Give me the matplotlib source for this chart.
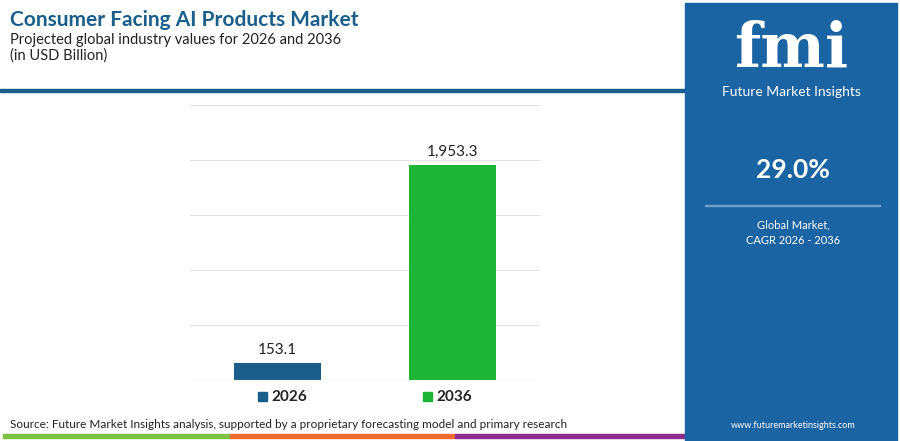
import matplotlib
matplotlib.use("Agg")
import matplotlib.pyplot as plt
from matplotlib.patches import Rectangle

years = ["2026", "2036"]
values = [153.1, 1953.3]
labels = ["153.1", "1,953.3"]
colors = ["#1b5e8c", "#1db535"]
cagr = "29.0%"

plt.rcParams['font.family'] = ['Poppins', 'Lato', 'DejaVu Sans']
plt.rcParams['font.family'] = ['Lato', 'DejaVu Sans']
fig = plt.figure(figsize=(9, 4.41), dpi=100)
W, H = 900, 441
def fx(x): return x / W
def fy(y): return 1 - y / H

# header line
fig.add_artist(Rectangle((0, fy(92)), fx(685), 3/H, color="#1b5e8c", transform=fig.transFigure))
fig.text(fx(10), fy(20), "Consumer Facing AI Products Market", fontsize=15, fontweight="bold", color="#1b5e8c", va="center")
fig.text(fx(10), fy(40), "Projected global industry values for 2026 and 2036", fontsize=10.5, color="#222222", va="center")
fig.text(fx(10), fy(56), "(in USD Billion)", fontsize=10.5, color="#222222", va="center")

ax = fig.add_axes([fx(190), fy(380), fx(540) - fx(190), (380 - 105) / H])
x = range(len(values))
ax.bar(x, values, width=0.5, color=colors, zorder=3)
for xi, v, l in zip(x, values, labels):
    ax.text(xi, v + 60, l, ha="center", va="bottom", fontsize=11, color="#222222")
ax.set_xlim(-0.5, 1.5)
ax.set_ylim(0, 2500)
ax.set_yticks([0, 500, 1000, 1500, 2000, 2500])
ax.grid(axis="y", color="#e3e3e3", lw=0.8, zorder=0)
ax.tick_params(left=False, bottom=False, labelleft=False, labelbottom=False)
for s in ax.spines.values():
    s.set_visible(False)
ax.axhline(0, color="#cccccc", lw=0.8, zorder=4)

# legend
for xc, yr, c in [(258, years[0], colors[0]), (423, years[1], colors[1])]:
    fig.add_artist(Rectangle((fx(xc), fy(401)), 9/W, 9/H, color=c, transform=fig.transFigure))
    fig.text(fx(xc + 13), fy(397), yr, fontsize=11, fontweight="bold", color="#222222", va="center")

fig.text(fx(10), fy(425), "Source: Future Market Insights analysis, supported by a proprietary forecasting model and primary research",
         fontsize=8.5, color="#222222", va="center")
for x0, x1, c in [(3, 230, "#7dc243"), (230, 455, "#ee6b2f"), (455, 685, "#8e2c8e")]:
    fig.add_artist(Rectangle((fx(x0), fy(438)), fx(x1 - x0), 4/H, color=c, transform=fig.transFigure))

# right panel
fig.add_artist(Rectangle((fx(685), 0), fx(212), fy(3), color="#1b64a4", transform=fig.transFigure))
fig.text(fx(791), fy(50), "fmi", fontsize=44, fontweight="bold", color="white", ha="center", va="center", family="DejaVu Serif")
fig.text(fx(791), fy(92), "Future Market Insights", fontsize=10, color="white", ha="center", va="center")
fig.text(fx(793), fy(170), cagr, fontsize=19, fontweight="bold", color="white", ha="center", va="center")
fig.add_artist(Rectangle((fx(705), fy(206)), fx(175), 1/H, color="#6f9fcc", transform=fig.transFigure))
fig.text(fx(793), fy(225), "Global Market,", fontsize=8, color="white", ha="center", va="center")
fig.text(fx(793), fy(240), "CAGR 2026 - 2036", fontsize=8, color="white", ha="center", va="center")
fig.text(fx(793), fy(425), "www.futuremarketinsights.com", fontsize=6.5, color="white", ha="center", va="center")

fig.savefig("out.png", dpi=100)
